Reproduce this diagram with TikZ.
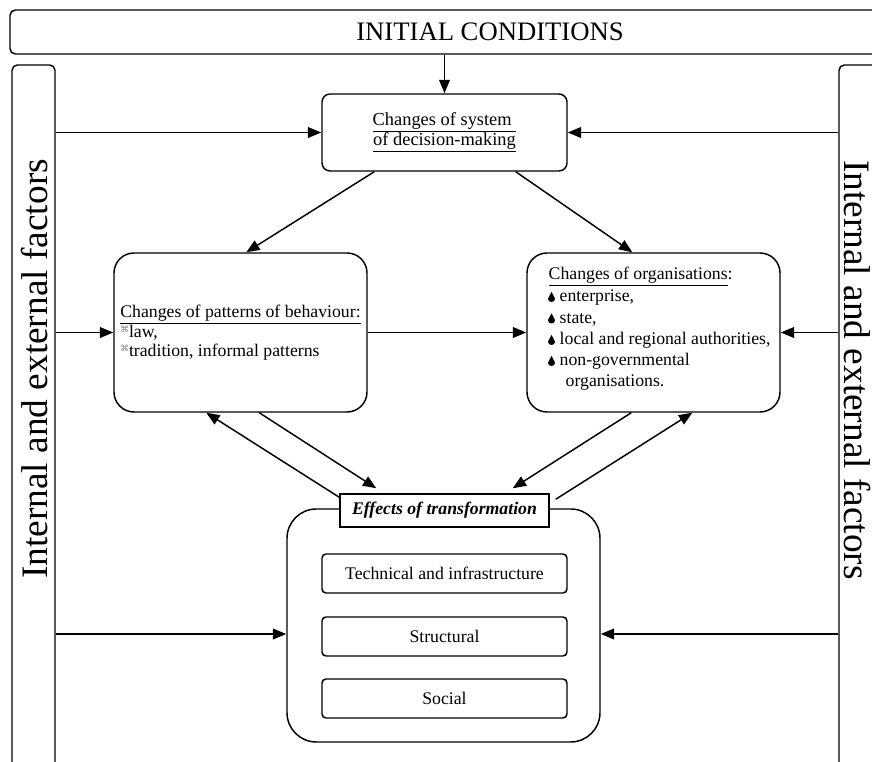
\documentclass[tikz,border=0pt]{standalone}
\usepackage{fontspec}
\setmainfont{Liberation Serif}
\newfontfamily\symfont{DejaVu Sans}
\usetikzlibrary{arrows.meta,calc}
\newcommand\glyphb{{\symfont\fontsize{6.5}{6.5}\selectfont\color{gray}\raisebox{3.5pt}{⌘}}}
\begin{document}
\begin{tikzpicture}[x=0.75pt,y=-0.75pt,line width=1.1pt,
  box/.style={draw,rounded corners=#1,inner sep=0pt},
  arr/.style={-{Triangle[length=10pt,width=8pt]}},
  txt/.style={font=\fontsize{13.3}{14}\selectfont},
  otxt/.style={font=\fontsize{13.3}{14}\selectfont,anchor=base west,inner sep=0pt},
  drop/.pic={\fill (3.5,-10) .. controls (4.2,-7) and (7,-5.8) .. (7,-3.3) .. controls (7,-1.3) and (5.5,0) .. (3.5,0) .. controls (1.5,0) and (0,-1.3) .. (0,-3.3) .. controls (0,-5.8) and (2.8,-7) .. (3.5,-10) -- cycle;}]
\useasboundingbox (0,0) rectangle (872,762);
\clip (0,0) rectangle (872,762);
% top band
\node[box=4pt,minimum width=960*0.75pt,minimum height=44*0.75pt,font=\fontsize{20}{24}\selectfont] (init) at (490,32) {INITIAL CONDITIONS};
% side bands
\node[box=4pt,minimum width=43*0.75pt,minimum height=735*0.75pt] (lside) at (33.5,432.5) {};
\node[rotate=90,font=\fontsize{28}{30}\selectfont] (ltext) at (35,369) {Internal and external factors};
\node[box=4pt,minimum width=61*0.75pt,minimum height=735*0.75pt] (rside) at (869.5,432.5) {};
\node[rotate=-90,font=\fontsize{28}{30}\selectfont] (rtext) at (857,370) {Internal and external factors};
% decision making
\node[box=6pt,minimum width=245*0.75pt,minimum height=77*0.75pt,align=center,font=\fontsize{13.8}{15}\selectfont] (sys) at (444.5,132.5) {\underline{Changes of system\ }\\\underline{of decision-making}};
% behaviour
\node[box=15pt,minimum width=253*0.75pt,minimum height=159*0.75pt,align=left,txt] (beh) at (240.5,332.5) {\underline{Changes of patterns of behaviour:}\\\glyphb law,\\\glyphb tradition, informal patterns};
% organisations
\node[box=15pt,minimum width=253*0.75pt,minimum height=159*0.75pt] (org) at (653.5,332.5) {};
\node[otxt] (orgh) at (548,280) {\underline{Changes of organisations}:};
\node[otxt] (org1) at (559,302) {enterprise,};
\node[otxt] (org2) at (559,323.5) {state,};
\node[otxt] (org3) at (559,345) {local and regional authorities,};
\node[otxt] (org4) at (559,366) {non-governmental};
\node[otxt] (org5) at (565,387) {organisations.};
\pic at (548,302) {drop};
\pic at (548,323.5) {drop};
\pic at (548,345) {drop};
\pic at (548,366) {drop};
% effects
\node[box=22pt,minimum width=313*0.75pt,minimum height=233*0.75pt] (big) at (443.5,625.5) {};
\node[draw,fill=white,inner sep=0pt,minimum width=209*0.75pt,minimum height=33*0.75pt,font=\fontsize{13.3}{14}\selectfont\bfseries\itshape] (eff) at (444.5,510.5) {Effects of transformation};
\node[box=3pt,minimum width=245*0.75pt,minimum height=39*0.75pt,txt] (tech) at (444.5,573.5) {Technical and infrastructure};
\node[box=3pt,minimum width=245*0.75pt,minimum height=39*0.75pt,txt] (struct) at (444.5,636.5) {Structural};
\node[box=3pt,minimum width=245*0.75pt,minimum height=39*0.75pt,txt] (soc) at (444.5,698.5) {Social};
% connectors
\draw[arr] (init.south -| sys.north) -- (sys.north);
\draw[arr] (lside.east |- sys.west) -- (sys.west);
\draw[arr] (rside.west |- sys.east) -- (sys.east);
\draw[arr] ($(sys.south west)+(53,0)$) -- ($(beh.north west)+(133,0)$);
\draw[arr] ($(sys.south east)+(-52,0)$) -- ($(org.north west)+(106,0)$);
\draw[arr] (beh.east) -- (org.west);
\draw[arr] (lside.east |- beh.west) -- (beh.west);
\draw[arr] (rside.west |- org.east) -- (org.east);
\draw[arr] ($(beh.south west)+(146,0)$) -- ($(eff.north west)+(37,-5)$);
\draw[arr] ($(eff.north west)+(0,4)$) -- ($(beh.south west)+(93,0)$);
\draw[arr] ($(org.south west)+(105,0)$) -- ($(eff.north east)+(-37,-5)$);
\draw[arr] ($(eff.north east)+(6,6)$) -- ($(org.south west)+(166,0)$);
\coordinate (bl) at ($(big.west)+(0,8.5)$);
\coordinate (br) at ($(big.east)+(0,8.5)$);
\draw[arr] (lside.east |- bl) -- (bl);
\draw[arr] (rside.west |- br) -- (br);
\end{tikzpicture}
\end{document}
